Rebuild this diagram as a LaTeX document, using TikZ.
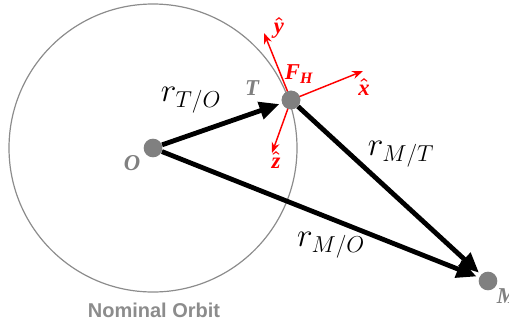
\documentclass[tikz,border=0pt]{standalone}
\usepackage{amsmath}
\usepackage{fontspec}
\newfontfamily\labelsans{Liberation Sans}
\newfontfamily\labelserif{Liberation Serif}
\usetikzlibrary{arrows.meta}
\definecolor{orbitgray}{RGB}{140,140,140}
\definecolor{ptgray}{RGB}{128,128,128}
\definecolor{axred}{RGB}{255,0,0}
\newcommand{\bil}[1]{\text{\labelserif\bfseries\itshape #1}}
\tikzset{
  orbit/.style={draw=orbitgray, line width=0.9pt},
  ptdot/.style={circle, fill=ptgray, minimum size=14pt, inner sep=0pt},
  vec/.style={line width=3.6pt, -{Triangle[length=15pt,width=13pt]}, shorten >=2pt},
  axis/.style={axred, line width=1.1pt, -{Stealth[length=8pt,width=6pt]}},
  ptlab/.style={text=ptgray, font=\fontsize{17}{20}\selectfont},
  axlab/.style={text=axred, font=\fontsize{17}{20}\selectfont},
  veclab/.style={font=\fontsize{26}{30}\selectfont}
}
\begin{document}
\begin{tikzpicture}[x=0.75pt,y=-0.75pt]
\useasboundingbox (0,0) rectangle (509,322);
\draw[orbit] (153,148) circle[radius=144];
\node[ptdot] (O) at (153,148) {};
\node[ptdot] (T) at (291,100) {};
\node[ptdot] (M) at (488,281) {};
\coordinate (xh) at (363,71);
\coordinate (yh) at (264,33);
\coordinate (zh) at (272,153);
\draw[axis] (T.center) -- (xh);
\draw[axis] (T.center) -- (yh);
\draw[axis] (T.center) -- (zh);
\node[ptdot] (T2) at (291,100) {};
\draw[vec] (O) -- (T);
\draw[vec] (T) -- (M);
\draw[vec] (O) -- (M);
\node[ptlab] (lO) at (132,163) {$\bil{O}$};
\node[ptlab] (lT) at (252,88) {$\bil{T}$};
\node[ptlab] (lM) at (507,296) {$\bil{M}$};
\node[axlab] (lF) at (299,74) {$\bil{F}_{\bil{H}}$};
\node[axlab] (lx) at (364,87) {$\boldsymbol{\hat{\bil{x}}}$};
\node[axlab] (ly) at (279,28) {$\boldsymbol{\hat{\bil{y}}}$};
\node[axlab] (lz) at (276,160) {$\boldsymbol{\hat{\bil{z}}}$};
\node[veclab] (rTO) at (191,100) {$r_{T/O}$};
\node[veclab] (rMT) at (401,154) {$r_{M/T}$};
\node[veclab] (rMO) at (331,245) {$r_{M/O}$};
\node[text=orbitgray, font=\labelsans\bfseries\fontsize{15}{17}\selectfont] (lorb) at (154,310) {Nominal Orbit};
\end{tikzpicture}
\end{document}
